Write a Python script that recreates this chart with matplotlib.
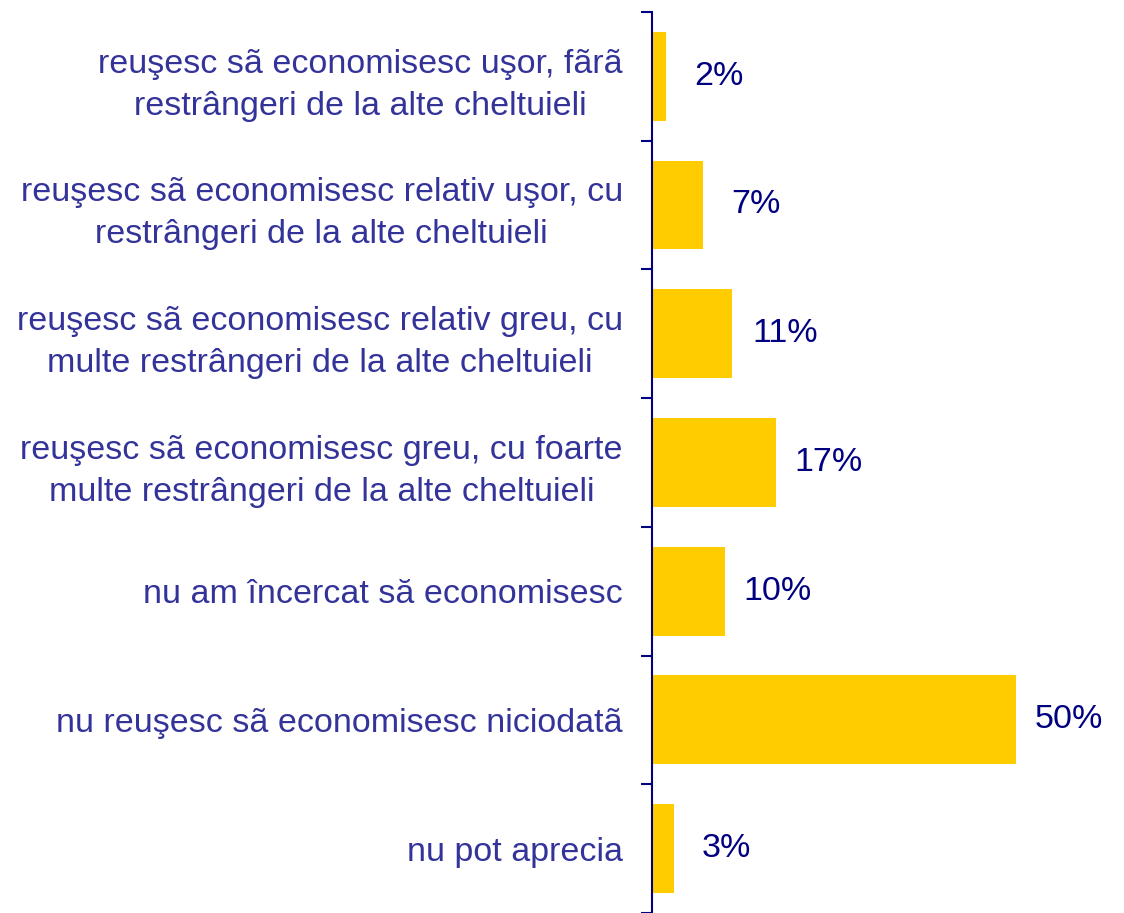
import matplotlib
matplotlib.use("Agg")
import matplotlib.pyplot as plt
import numpy as np

categories = [
    "reuşesc sã economisesc uşor, fãrã\nrestrângeri de la alte cheltuieli",
    "reuşesc sã economisesc relativ uşor, cu\nrestrângeri de la alte cheltuieli",
    "reuşesc sã economisesc relativ greu, cu\nmulte restrângeri de la alte cheltuieli",
    "reuşesc sã economisesc greu, cu foarte\nmulte restrângeri de la alte cheltuieli",
    "nu am încercat să economisesc",
    "nu reuşesc sã economisesc niciodatã",
    "nu pot aprecia",
]
values = [2, 7, 11, 17, 10, 50, 3]
value_labels = ["2%", "7%", "11%", "17%", "10%", "50%", "3%"]

plt.rcParams['font.family'] = ['Liberation Sans', 'DejaVu Sans']

fig = plt.figure(figsize=(11.24, 9.13), dpi=100)
ax = fig.add_axes([0.58, 0.0, 0.42, 0.987])

y = np.arange(len(categories))
ax.barh(y, values, height=0.69, color='#FFCC00', zorder=2)

for yi, v, lab in zip(y, values, value_labels):
    ax.annotate(lab, (v, yi), xytext=(38, 0), textcoords='offset points',
                ha='center', va='center', fontsize=24.5, color='#000080')

ax.set_ylim(len(categories) - 0.5, -0.5)
ax.set_xlim(0, 64.8)

ax.set_yticks(y)
ax.set_yticklabels(categories, fontsize=24.5, color='#333399',
                   multialignment='center', linespacing=1.45)
ax.tick_params(axis='y', which='major', length=0, pad=21)
ax.set_yticks(np.arange(-0.5, len(categories), 1), minor=True)
ax.tick_params(axis='y', which='minor', length=8, width=1.5, color='#000080', direction='out')

ax.set_xticks([])
for side in ['top', 'right', 'bottom']:
    ax.spines[side].set_visible(False)
ax.spines['left'].set_color('#000080')
ax.spines['left'].set_linewidth(1.5)

fig.savefig("out.png", dpi=100)
